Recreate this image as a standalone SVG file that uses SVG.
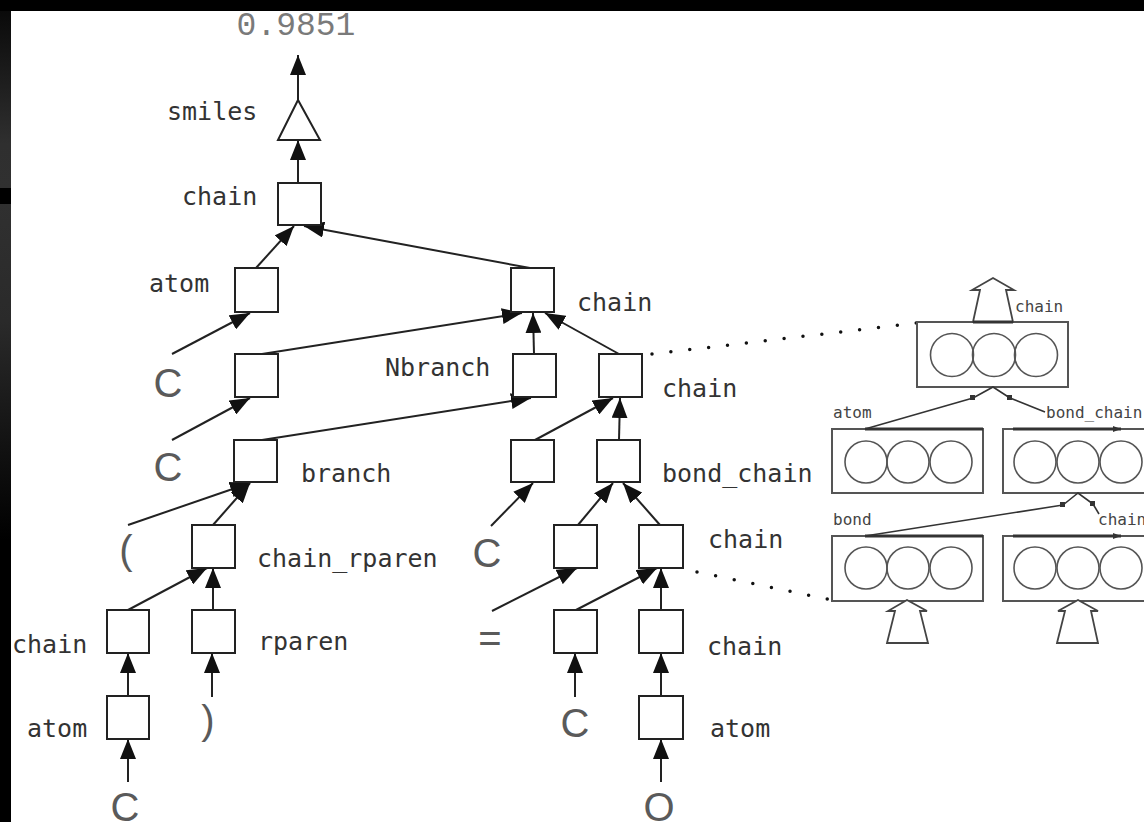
<svg xmlns="http://www.w3.org/2000/svg" width="1144" height="822" viewBox="0 0 1144 822">
  <defs>
    <linearGradient id="edgeTop" x1="0" y1="0" x2="0" y2="1">
      <stop offset="0" stop-color="#0a0a0a"/>
      <stop offset="0.75" stop-color="#2f2f2f"/>
      <stop offset="1" stop-color="#303030"/>
    </linearGradient>
    <linearGradient id="edgeMid" x1="0" y1="0" x2="0" y2="1">
      <stop offset="0" stop-color="#303030"/>
      <stop offset="0.35" stop-color="#2a2a2a"/>
      <stop offset="1" stop-color="#000"/>
    </linearGradient>
    <marker id="arr" viewBox="0 0 20 16" refX="20" refY="8" markerWidth="20" markerHeight="16" markerUnits="userSpaceOnUse" orient="auto">
      <path d="M0,0 L20,8 L0,16 z" fill="#111"/>
    </marker>
    <marker id="tiny" viewBox="0 0 8 6" refX="8" refY="3" markerWidth="8" markerHeight="6" markerUnits="userSpaceOnUse" orient="auto">
      <path d="M0,0 L8,3 L0,6 z" fill="#333"/>
    </marker>
    <style>
      .box { fill: #fff; stroke: #222; stroke-width: 2; }
      .lbl { font-family: "DejaVu Sans Mono", "Liberation Mono", monospace; font-size: 25px; fill: #333; }
      .sym { font-family: "Liberation Sans", Arial, sans-serif; font-size: 40px; fill: #5a5a5a; text-anchor: middle; }
      .score { font-family: "Liberation Mono", "Courier New", monospace; font-size: 33px; fill: #7a7a7a; text-anchor: middle; }
      .edge { stroke: #222; stroke-width: 2; fill: none; marker-end: url(#arr); }
      .dots { stroke: #111; stroke-width: 3.5; stroke-linecap: round; stroke-dasharray: 0 19; fill: none; }
      .cell { fill: #fff; stroke: #555; stroke-width: 2; }
      .unit { fill: none; stroke: #555; stroke-width: 1.6; }
      .hollow { fill: #fff; stroke: #444; stroke-width: 1.8; stroke-linejoin: miter; }
      .thin { stroke: #333; stroke-width: 1.6; fill: none; }
      .bar { stroke: #333; stroke-width: 3; fill: none; }
      .small { font-family: "DejaVu Sans Mono", "Liberation Mono", monospace; font-size: 16px; fill: #444; }
    </style>
  </defs>

  <!-- frame -->
  <rect x="0" y="0" width="1144" height="822" fill="#000"/>
  <rect x="0" y="11" width="11" height="177" fill="url(#edgeTop)"/>
  <rect x="0" y="204" width="11" height="336" fill="url(#edgeMid)"/>
  <rect x="11" y="11" width="1133" height="811" fill="#fff"/>

  <!-- output score -->
  <text class="score" x="296" y="35">0.9851</text>

  <!-- connectors -->
  <g id="connectors">
    <line class="edge" x1="298" y1="100" x2="298" y2="55"/>
    <line class="edge" x1="298" y1="183" x2="298" y2="140"/>
    <line class="edge" x1="256" y1="268" x2="294" y2="226"/>
    <line class="edge" x1="530" y1="268" x2="304" y2="226"/>
    <line class="edge" x1="172" y1="354" x2="250" y2="313"/>
    <line class="edge" x1="262" y1="354" x2="522" y2="313"/>
    <line class="edge" x1="534" y1="354" x2="533" y2="313"/>
    <line class="edge" x1="619" y1="354" x2="545" y2="313"/>
    <line class="edge" x1="172" y1="440" x2="250" y2="398"/>
    <line class="edge" x1="262" y1="440" x2="531" y2="398"/>
    <line class="edge" x1="128" y1="525" x2="250" y2="483"/>
    <line class="edge" x1="213" y1="525" x2="250" y2="483"/>
    <line class="edge" x1="535" y1="440" x2="613" y2="398"/>
    <line class="edge" x1="619" y1="440" x2="620" y2="398"/>
    <line class="edge" x1="491" y1="526" x2="533" y2="483"/>
    <line class="edge" x1="578" y1="525" x2="613" y2="483"/>
    <line class="edge" x1="660" y1="525" x2="623" y2="483"/>
    <line class="edge" x1="128" y1="610" x2="207" y2="568"/>
    <line class="edge" x1="213" y1="610" x2="213" y2="568"/>
    <line class="edge" x1="128" y1="696" x2="128" y2="653"/>
    <line class="edge" x1="128" y1="782" x2="128" y2="739"/>
    <line class="edge" x1="212" y1="697" x2="212" y2="653"/>
    <line class="edge" x1="492" y1="611" x2="577" y2="568"/>
    <line class="edge" x1="576" y1="610" x2="657" y2="568"/>
    <line class="edge" x1="661" y1="610" x2="661" y2="568"/>
    <line class="edge" x1="575" y1="697" x2="575" y2="653"/>
    <line class="edge" x1="661" y1="696" x2="661" y2="653"/>
    <line class="edge" x1="661" y1="782" x2="661" y2="739"/>
    <!-- expansions of two chain nodes -->
    <path class="dots" d="M652,354 L917,323"/>
    <path class="dots" d="M697,572 L832,600"/>
  </g>

  <!-- parse tree nodes -->
  <g id="smiles">
    <polygon class="box" points="298,100 278,140 320,140"/>
    <text class="lbl" x="167" y="120">smiles</text>
  </g>
  <g id="n-chain-root"><rect class="box" x="278" y="183" width="43" height="42"/><text class="lbl" x="182" y="205">chain</text></g>
  <g id="n-atom-1"><rect class="box" x="235" y="268" width="43" height="44"/><text class="lbl" x="149" y="292">atom</text></g>
  <g id="n-chain-2"><rect class="box" x="511" y="268" width="43" height="44"/><text class="lbl" x="577" y="311">chain</text></g>
  <g id="n-c-1"><rect class="box" x="235" y="354" width="43" height="43"/></g>
  <g id="n-nbranch"><rect class="box" x="513" y="354" width="43" height="43"/><text class="lbl" x="385" y="376">Nbranch</text></g>
  <g id="n-chain-3"><rect class="box" x="599" y="354" width="43" height="43"/><text class="lbl" x="662" y="397">chain</text></g>
  <g id="n-branch"><rect class="box" x="234" y="440" width="43" height="42"/><text class="lbl" x="301" y="482">branch</text></g>
  <g id="n-c-2"><rect class="box" x="511" y="440" width="43" height="42"/></g>
  <g id="n-bond-chain"><rect class="box" x="597" y="440" width="43" height="42"/><text class="lbl" x="662" y="482">bond_chain</text></g>
  <g id="n-chain-rparen"><rect class="box" x="192" y="525" width="43" height="43"/><text class="lbl" x="257" y="567">chain_rparen</text></g>
  <g id="n-bond"><rect class="box" x="554" y="525" width="43" height="43"/></g>
  <g id="n-chain-4"><rect class="box" x="639" y="525" width="44" height="43"/><text class="lbl" x="708" y="548">chain</text></g>
  <g id="n-chain-5"><rect class="box" x="107" y="610" width="42" height="43"/><text class="lbl" x="12" y="653">chain</text></g>
  <g id="n-rparen"><rect class="box" x="192" y="610" width="43" height="43"/><text class="lbl" x="258" y="650">rparen</text></g>
  <g id="n-c-3"><rect class="box" x="554" y="610" width="43" height="43"/></g>
  <g id="n-chain-6"><rect class="box" x="639" y="610" width="44" height="43"/><text class="lbl" x="707" y="655">chain</text></g>
  <g id="n-atom-2"><rect class="box" x="107" y="696" width="42" height="43"/><text class="lbl" x="27" y="737">atom</text></g>
  <g id="n-atom-3"><rect class="box" x="639" y="696" width="44" height="43"/><text class="lbl" x="710" y="737">atom</text></g>

  <!-- input symbols -->
  <g id="symbols">
    <text class="sym" x="168" y="397">C</text>
    <text class="sym" x="168" y="481">C</text>
    <text class="sym" x="126" y="564">(</text>
    <text class="sym" x="208" y="734">)</text>
    <text class="sym" x="487" y="567">C</text>
    <text class="sym" x="490" y="652">=</text>
    <text class="sym" x="575" y="737">C</text>
    <text class="sym" x="125" y="821">C</text>
    <text class="sym" x="659" y="821">O</text>
  </g>

  <!-- expanded view of the chain units -->
  <g id="unit-top">
    <rect class="cell" x="917" y="322" width="151" height="65"/>
    <circle class="unit" cx="952" cy="355" r="21.5"/>
    <circle class="unit" cx="994" cy="355" r="21.5"/>
    <circle class="unit" cx="1036" cy="355" r="21.5"/>
    <polygon class="hollow" points="973,322 980,290 972,290 993,278 1014,290 1006,290 1013,322"/>
    <line class="bar" x1="973" y1="322" x2="1013" y2="322"/>
    <text class="small" x="1015" y="312">chain</text>
  </g>
  <g id="unit-atom">
    <rect class="cell" x="832" y="429" width="151" height="64"/>
    <circle class="unit" cx="866" cy="462" r="21"/>
    <circle class="unit" cx="908" cy="462" r="21"/>
    <circle class="unit" cx="951" cy="462" r="21"/>
    <line class="bar" x1="865" y1="429" x2="983" y2="429"/>
    <text class="small" x="833" y="418">atom</text>
  </g>
  <g id="unit-bond-chain">
    <rect class="cell" x="1003" y="429" width="160" height="64"/>
    <circle class="unit" cx="1035" cy="462" r="21"/>
    <circle class="unit" cx="1078" cy="462" r="21"/>
    <circle class="unit" cx="1121" cy="462" r="21"/>
    <line class="bar" x1="1013" y1="429" x2="1121" y2="429" marker-end="url(#tiny)"/>
    <text class="small" x="1046" y="418">bond_chain</text>
  </g>
  <g id="unit-bond">
    <rect class="cell" x="832" y="536" width="151" height="65"/>
    <circle class="unit" cx="866" cy="568" r="21"/>
    <circle class="unit" cx="908" cy="568" r="21"/>
    <circle class="unit" cx="951" cy="568" r="21"/>
    <line class="bar" x1="865" y1="536" x2="983" y2="536"/>
    <polygon class="hollow" points="887,643 895,611 888,611 907,600 927,611 920,611 928,643"/>
    <text class="small" x="833" y="525">bond</text>
  </g>
  <g id="unit-chain">
    <rect class="cell" x="1003" y="536" width="160" height="65"/>
    <circle class="unit" cx="1035" cy="568" r="21"/>
    <circle class="unit" cx="1078" cy="568" r="21"/>
    <circle class="unit" cx="1121" cy="568" r="21"/>
    <line class="bar" x1="1013" y1="536" x2="1121" y2="536" marker-end="url(#tiny)"/>
    <polygon class="hollow" points="1057,643 1065,611 1058,611 1078,600 1098,611 1091,611 1098,643"/>
    <text class="small" x="1098" y="525">chain</text>
  </g>
  <g id="unit-links">
    <path class="thin" d="M973,398 L993,387 L1010,398"/>
    <line class="thin" x1="973" y1="398" x2="865" y2="429"/>
    <line class="thin" x1="1010" y1="398" x2="1045" y2="412"/>
    <rect x="970" y="395" width="5" height="5" fill="#333"/>
    <rect x="1007" y="395" width="5" height="5" fill="#333"/>
    <path class="thin" d="M1063,505 L1078,493 L1093,504"/>
    <line class="thin" x1="1063" y1="505" x2="865" y2="536"/>
    <line class="thin" x1="1093" y1="504" x2="1099" y2="514"/>
    <rect x="1060" y="502" width="5" height="5" fill="#333"/>
    <rect x="1090" y="501" width="5" height="5" fill="#333"/>
  </g>
</svg>
